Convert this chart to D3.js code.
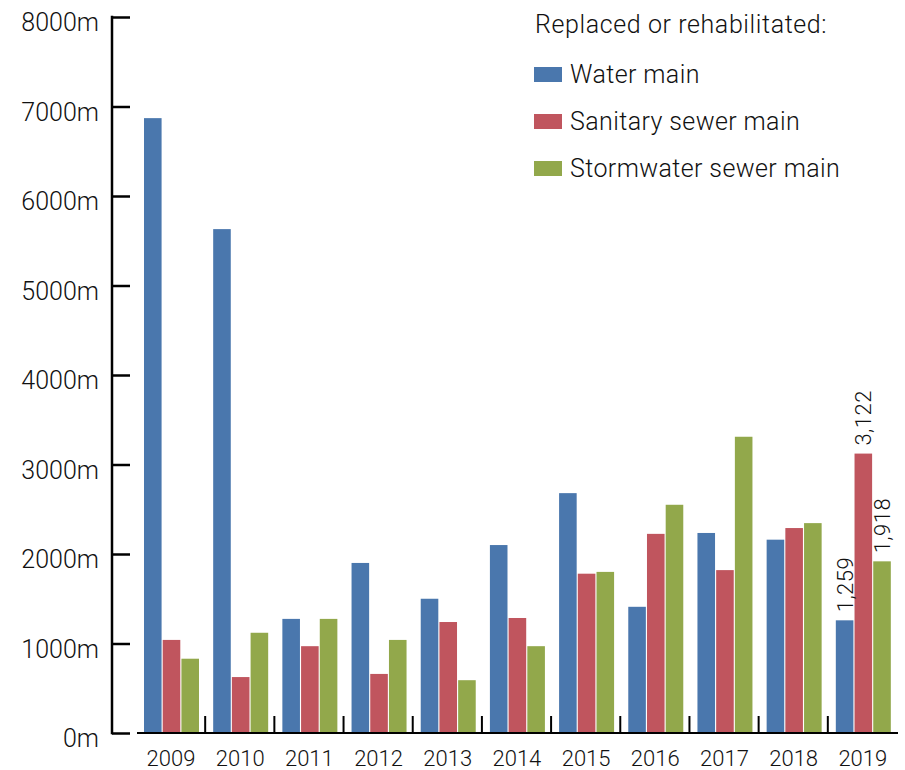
<!DOCTYPE html>
<html>
<head>
<meta charset="utf-8">
<script src="https://cdn.jsdelivr.net/npm/d3@7"></script>
<style>
  body { margin: 0; background: #fff; }
  svg { font-family: Roboto, "Liberation Sans", Arial, sans-serif; font-weight: 300; }
  .lbl { fill: #111; }
</style>
</head>
<body>
<div id="chart"></div>
<script>
// values (metres)
var years = ["2009", "2010", "2011", "2012", "2013", "2014", "2015", "2016", "2017", "2018", "2019"];
var waterMain = [6870, 5630, 1275, 1900, 1500, 2100, 2680, 1410, 2235, 2160, 1259];
var sanitarySewer = [1040, 625, 970, 660, 1240, 1285, 1780, 2225, 1820, 2290, 3122];
var stormwaterSewer = [830, 1120, 1275, 1040, 590, 970, 1800, 2550, 3310, 2345, 1918];
var seriesNames = ["Water main", "Sanitary sewer main", "Stormwater sewer main"];
var yTicks = [0, 1000, 2000, 3000, 4000, 5000, 6000, 7000, 8000];
var legendTitle = "Replaced or rehabilitated:";
var labelledYear = "2019";

var colors = ["#4a77ad", "#c0555e", "#92a84b"];
var allSeries = [waterMain, sanitarySewer, stormwaterSewer];

var width = 905, height = 770;

var svg = d3.select("#chart").append("svg")
  .attr("width", width)
  .attr("height", height);

var y = d3.scaleLinear().domain([0, 8000]).range([733, 17]);

var x0 = d3.scaleBand().domain(years).range([137, 898]);
var x1 = d3.scaleBand().domain(seriesNames).range([7, 62]).paddingInner(0.06);

// bars
var groups = svg.selectAll(".year")
  .data(years)
  .enter().append("g")
  .attr("class", "year")
  .attr("transform", function (d) { return "translate(" + x0(d) + ",0)"; });

groups.selectAll("rect")
  .data(function (d, i) {
    return seriesNames.map(function (s, k) { return { year: d, series: s, k: k, value: allSeries[k][i] }; });
  })
  .enter().append("rect")
  .attr("x", function (d) { return x1(d.series); })
  .attr("width", x1.bandwidth())
  .attr("y", function (d) { return y(d.value); })
  .attr("height", function (d) { return y(0) - y(d.value); })
  .style("fill", function (d) { return colors[d.k]; });

// value labels on the last year only
groups.filter(function (d) { return d === labelledYear; })
  .selectAll("text.val")
  .data(function (d) {
    var i = years.indexOf(d);
    return seriesNames.map(function (s, k) { return { series: s, value: allSeries[k][i] }; });
  })
  .enter().append("text")
  .attr("class", "val lbl")
  .attr("transform", function (d) {
    return "translate(" + (x1(d.series) + x1.bandwidth() / 2 + 8) + "," + (y(d.value) - 8) + ") rotate(-90)";
  })
  .style("font-size", "22px")
  .style("letter-spacing", "0.5px")
  .text(function (d) { return d3.format(",")(d.value); });

// y axis
var yAxis = d3.axisRight(y).tickValues(yTicks).tickSize(18).tickFormat("");
var yg = svg.append("g")
  .attr("transform", "translate(112,0)")
  .call(yAxis);
yg.select(".domain").remove();
yg.selectAll(".tick line").attr("stroke", "#000").attr("stroke-width", 2.5);
yg.append("line")
  .attr("x1", 0).attr("x2", 0)
  .attr("y1", y(8000) - 1.2).attr("y2", y(0) + 1.2)
  .attr("stroke", "#000").attr("stroke-width", 2.5);

svg.selectAll(".ylab")
  .data(yTicks)
  .enter().append("text")
  .attr("class", "ylab lbl")
  .attr("x", 99)
  .attr("y", function (d) { return y(d) + 14; })
  .attr("text-anchor", "end")
  .style("font-size", "25px")
  .text(function (d) { return d + "m"; });

// x baseline with separators between years
svg.append("line")
  .attr("x1", x0.range()[0]).attr("x2", x0.range()[1])
  .attr("y1", y(0)).attr("y2", y(0))
  .attr("stroke", "#000").attr("stroke-width", 2);

svg.selectAll(".sep")
  .data(years.slice(1))
  .enter().append("line")
  .attr("class", "sep")
  .attr("x1", function (d) { return x0(d) - 1; })
  .attr("x2", function (d) { return x0(d) - 1; })
  .attr("y1", y(0)).attr("y2", y(0) - 17)
  .attr("stroke", "#000").attr("stroke-width", 2);

svg.selectAll(".xlab")
  .data(years)
  .enter().append("text")
  .attr("class", "xlab lbl")
  .attr("x", function (d) { return x0(d) + 7 + 27; })
  .attr("y", 766)
  .attr("text-anchor", "middle")
  .style("font-size", "22px")
  .text(function (d) { return d; });

// legend
var legend = svg.append("g").attr("transform", "translate(534,0)");
legend.append("text")
  .attr("class", "lbl")
  .attr("x", 1).attr("y", 33)
  .style("font-size", "25px")
  .style("letter-spacing", "0.6px")
  .text(legendTitle);

var items = legend.selectAll(".item")
  .data(seriesNames)
  .enter().append("g")
  .attr("class", "item")
  .attr("transform", function (d, i) { return "translate(0," + (67 + i * 47) + ")"; });
items.append("rect")
  .attr("width", 28).attr("height", 15)
  .style("fill", function (d, i) { return colors[i]; });
items.append("text")
  .attr("class", "lbl")
  .attr("x", 36).attr("y", 16)
  .style("font-size", "25px")
  .style("letter-spacing", "0.4px")
  .text(function (d) { return d; });
</script>
</body>
</html>
